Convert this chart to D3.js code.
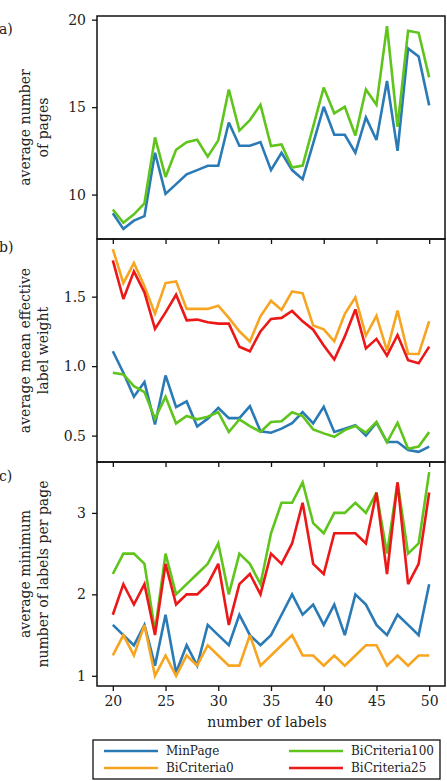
<!DOCTYPE html>
<html><head><meta charset="utf-8">
<script src="https://cdn.jsdelivr.net/npm/d3@7"></script>
<style>body{margin:0;background:#fff}svg{display:block}text{font-family:"DejaVu Serif",serif;fill:#222}</style>
</head><body>
<svg id="chart" width="447" height="781"></svg>
<script>
const labelCounts = [20,21,22,23,24,25,26,27,28,29,30,31,32,33,34,35,36,37,38,39,40,41,42,43,44,45,46,47,48,49,50];
const seriesNames = ["MinPage","BiCriteria0","BiCriteria100","BiCriteria25"];
const seriesColors = ["#2a7ab6","#f7a521","#5fc41b","#ec1717"];

// a) average number of pages
const pagesMinPage = [8.93,8.04,8.51,8.77,12.39,10.04,10.6,11.16,11.4,11.65,11.65,14.12,12.79,12.79,13.0,11.4,12.39,11.4,10.88,12.93,15.02,13.42,13.42,12.39,14.41,13.12,16.5,12.5,18.36,17.89,15.1];
const pagesBiCriteria100 = [9.15,8.39,8.87,9.5,13.27,11.01,12.56,13.0,13.13,12.17,13.1,16.01,13.66,14.26,15.13,12.78,12.87,11.55,11.66,13.89,16.12,14.65,15.02,13.38,16.01,15.13,19.63,13.87,19.37,19.25,16.7];

// b) average mean effective label weight
const weightMinPage = [1.107,0.952,0.78,0.885,0.581,0.933,0.705,0.746,0.565,0.622,0.70,0.626,0.626,0.712,0.531,0.521,0.55,0.59,0.669,0.588,0.708,0.526,0.55,0.575,0.50,0.593,0.454,0.454,0.397,0.383,0.421];
const weightBiCriteria0 = [1.842,1.598,1.742,1.575,1.378,1.598,1.61,1.412,1.412,1.412,1.435,1.347,1.251,1.177,1.359,1.471,1.404,1.538,1.524,1.292,1.265,1.179,1.376,1.495,1.22,1.361,1.112,1.40,1.089,1.087,1.323];
const weightBiCriteria100 = [0.952,0.94,0.856,0.813,0.622,0.78,0.588,0.641,0.617,0.636,0.669,0.526,0.617,0.569,0.526,0.598,0.603,0.668,0.64,0.545,0.516,0.491,0.54,0.569,0.521,0.598,0.452,0.593,0.405,0.421,0.525];
const weightBiCriteria25 = [1.761,1.483,1.682,1.531,1.268,1.387,1.514,1.33,1.335,1.316,1.306,1.306,1.139,1.107,1.25,1.34,1.347,1.397,1.322,1.262,1.148,1.048,1.214,1.408,1.128,1.196,1.075,1.224,1.042,1.02,1.14];

// c) average minimum number of labels per page
const minLabelsMinPage = [1.625,1.5,1.375,1.625,1.125,1.75,1.04,1.375,1.125,1.625,1.5,1.375,1.75,1.5,1.375,1.5,1.75,2.0,1.75,1.875,1.625,1.875,1.5,2.0,1.875,1.625,1.5,1.75,1.625,1.5,2.125];
const minLabelsBiCriteria0 = [1.25,1.5,1.25,1.625,1.0,1.25,1.0,1.25,1.125,1.375,1.25,1.125,1.125,1.5,1.125,1.25,1.375,1.5,1.25,1.25,1.125,1.25,1.125,1.25,1.375,1.375,1.125,1.25,1.125,1.25,1.25];
const minLabelsBiCriteria100 = [2.25,2.5,2.5,2.375,1.55,2.5,2.0,2.125,2.25,2.375,2.625,2.0,2.5,2.375,2.125,2.75,3.125,3.125,3.375,2.875,2.75,3.0,3.0,3.125,3.0,3.25,2.5,3.375,2.5,2.625,3.5];
const minLabelsBiCriteria25 = [1.75,2.125,1.875,2.125,1.5,2.375,1.875,2.0,2.0,2.125,2.375,1.625,2.125,2.25,2.0,2.5,2.375,2.625,3.125,2.375,2.25,2.75,2.75,2.75,2.625,3.25,2.25,3.375,2.125,2.375,3.25];

const xTicks = [20,25,30,35,40,45,50];
const yTicksA = [10,15,20];
const yTicksB = [0.5,1.0,1.5];
const yTicksC = [1,2,3];

const svg = d3.select("#chart");
const L = 97, R = 445;
const panels = [
  {top:16, bottom:239, tag:"a)", tagY:34, label:["average number","of pages"], ticks:yTicksA, fmt:d3.format("d"),
   series:[[pagesMinPage,0],[pagesBiCriteria100,2]]},
  {top:239, bottom:462, tag:"b)", tagY:252, label:["average mean effective","label weight"], ticks:yTicksB, fmt:d3.format(".1f"),
   series:[[weightMinPage,0],[weightBiCriteria0,1],[weightBiCriteria100,2],[weightBiCriteria25,3]]},
  {top:462, bottom:686, tag:"c)", tagY:481, label:["average minimum","number of labels per page"], ticks:yTicksC, fmt:d3.format("d"),
   series:[[minLabelsMinPage,0],[minLabelsBiCriteria0,1],[minLabelsBiCriteria100,2],[minLabelsBiCriteria25,3]]}
];

const xExt = d3.extent(labelCounts), xPad = (xExt[1]-xExt[0])*0.05;
const x = d3.scaleLinear().domain([xExt[0]-xPad, xExt[1]+xPad]).range([L, R]);

panels.forEach((p, i) => {
  const all = p.series.flatMap(s => s[0]);
  const ext = d3.extent(all), pad = (ext[1]-ext[0])*0.05;
  const y = d3.scaleLinear().domain([ext[0]-pad, ext[1]+pad]).range([p.bottom, p.top]);
  const g = svg.append("g");
  const line = d3.line().x((d,j) => x(labelCounts[j])).y(d => y(d));
  p.series.forEach(([vals, ci]) => {
    g.append("path").datum(vals).attr("d", line).attr("fill","none")
      .attr("stroke", seriesColors[ci]).attr("stroke-width", 2.6).attr("stroke-linejoin","miter").attr("stroke-miterlimit",3);
  });
  // y axis
  const ya = g.append("g").attr("transform", `translate(${L},0)`)
    .call(d3.axisLeft(y).tickValues(p.ticks).tickFormat(p.fmt).tickSize(5).tickPadding(6));
  ya.select(".domain").remove();
  ya.selectAll("line").attr("stroke","#111").attr("stroke-width",1.3);
  ya.selectAll("text").style("font-size","14px").attr("fill","#222").style("font-family","DejaVu Serif");
  // x axis
  const xa = g.append("g").attr("transform", `translate(0,${p.bottom})`)
    .call(d3.axisBottom(x).tickValues(xTicks).tickFormat(i === 2 ? d3.format("d") : "").tickSize(5).tickPadding(5));
  xa.select(".domain").remove();
  xa.selectAll("line").attr("stroke","#111").attr("stroke-width",1.3);
  xa.selectAll("text").style("font-size","14px").attr("fill","#222").style("font-family","DejaVu Serif");
  // frame
  g.append("rect").attr("x",L).attr("y",p.top).attr("width",R-L).attr("height",p.bottom-p.top)
    .attr("fill","none").attr("stroke","#111").attr("stroke-width",1.5);
  // ylabel
  const cy = (p.top + p.bottom)/2;
  p.label.forEach((t, k) => {
    svg.append("text").attr("transform", `translate(${25 + k*18},${cy}) rotate(-90)`)
      .attr("text-anchor","middle").attr("dominant-baseline","central")
      .style("font-size","14px").text(t);
  });
  svg.append("text").attr("x",-1).attr("y",p.tagY).style("font-size","14px").text(p.tag);
});

svg.append("text").attr("x",(L+R)/2 - 4).attr("y",727).attr("text-anchor","middle")
  .style("font-size","14px").text("number of labels");

// legend
const lg = svg.append("g");
lg.append("rect").attr("x",93).attr("y",740).attr("width",347).attr("height",39)
  .attr("fill","#fff").attr("stroke","#111").attr("stroke-width",1.3);
const legendOrder = [0,1,2,3];
legendOrder.forEach((ci, k) => {
  const col = Math.floor(k/2), row = k%2;
  const lx = col === 0 ? 104 : 289, ly = row === 0 ? 751 : 768;
  lg.append("line").attr("x1",lx).attr("x2",lx+54).attr("y1",ly).attr("y2",ly)
    .attr("stroke",seriesColors[ci]).attr("stroke-width",2.6);
  lg.append("text").attr("x",lx+62).attr("y",ly).attr("dominant-baseline","central")
    .style("font-size","12px").text(seriesNames[ci]);
});
</script>
</body></html>
